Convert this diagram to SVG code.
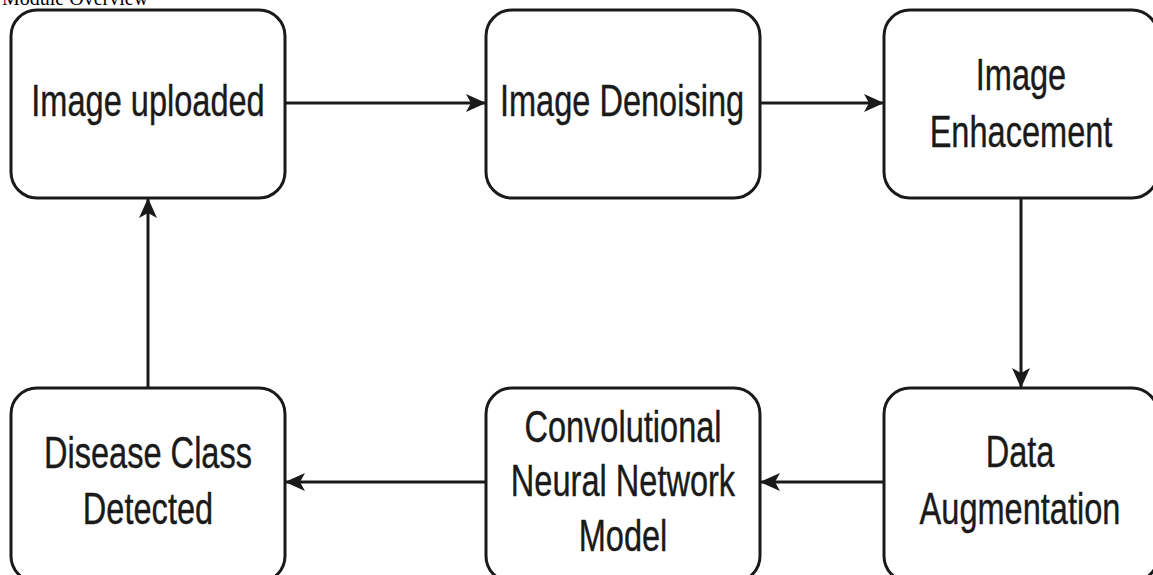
<svg xmlns="http://www.w3.org/2000/svg" width="1153" height="575" viewBox="0 0 1153 575">
<defs>
<style>
.box{fill:#fff;stroke:#1a1a1a;stroke-width:3}
.lbl{font-family:"Liberation Sans",Arial,sans-serif;font-size:44px;fill:#1a1a1a;text-anchor:middle;stroke:#1a1a1a;stroke-width:0.4}
.edge{stroke:#1a1a1a;stroke-width:3;fill:none;marker-end:url(#ah)}
.title{font-family:"Liberation Serif","Times New Roman",serif;font-size:20px;fill:#000}
</style>
<marker id="ah" viewBox="0 0 20 18" refX="19" refY="9" markerWidth="20" markerHeight="18" orient="auto" markerUnits="userSpaceOnUse">
<path d="M0,0 L20,9 L0,18 L5,9 Z" fill="#1a1a1a"/>
</marker>
</defs>
<rect width="1153" height="575" fill="#fff"/>
<text class="title" x="2" y="5">Module Overview</text>
<g id="connectors">
<line class="edge" x1="285" y1="103" x2="485" y2="103"/>
<line class="edge" x1="760" y1="103" x2="883" y2="103"/>
<line class="edge" x1="1021" y1="198" x2="1021" y2="387"/>
<line class="edge" x1="884" y1="482" x2="761" y2="482"/>
<line class="edge" x1="486" y1="482" x2="286" y2="482"/>
<line class="edge" x1="148" y1="388" x2="148" y2="199"/>
</g>
<g id="n1"><rect class="box" x="11" y="10" width="274" height="188" rx="26"/>
<text class="lbl" transform="translate(148,116) scale(0.74,1)">Image uploaded</text></g>
<g id="n2"><rect class="box" x="486" y="10" width="274" height="188" rx="26"/>
<text class="lbl" transform="translate(622,116) scale(0.74,1)">Image Denoising</text></g>
<g id="n3"><rect class="box" x="884" y="10" width="274" height="188" rx="26"/>
<text class="lbl" transform="translate(1021,90) scale(0.74,1)">Image</text>
<text class="lbl" transform="translate(1021,147) scale(0.74,1)">Enhacement</text></g>
<g id="n4"><rect class="box" x="884" y="388" width="274" height="194" rx="26"/>
<text class="lbl" transform="translate(1020,467) scale(0.74,1)">Data</text>
<text class="lbl" transform="translate(1020,524) scale(0.74,1)">Augmentation</text></g>
<g id="n5"><rect class="box" x="486" y="388" width="274" height="194" rx="26"/>
<text class="lbl" transform="translate(623,442) scale(0.74,1)">Convolutional</text>
<text class="lbl" transform="translate(623,496) scale(0.74,1)">Neural Network</text>
<text class="lbl" transform="translate(623,551) scale(0.74,1)">Model</text></g>
<g id="n6"><rect class="box" x="11" y="388" width="274" height="194" rx="26"/>
<text class="lbl" transform="translate(148,468) scale(0.74,1)">Disease Class</text>
<text class="lbl" transform="translate(148,524) scale(0.74,1)">Detected</text></g>
</svg>
